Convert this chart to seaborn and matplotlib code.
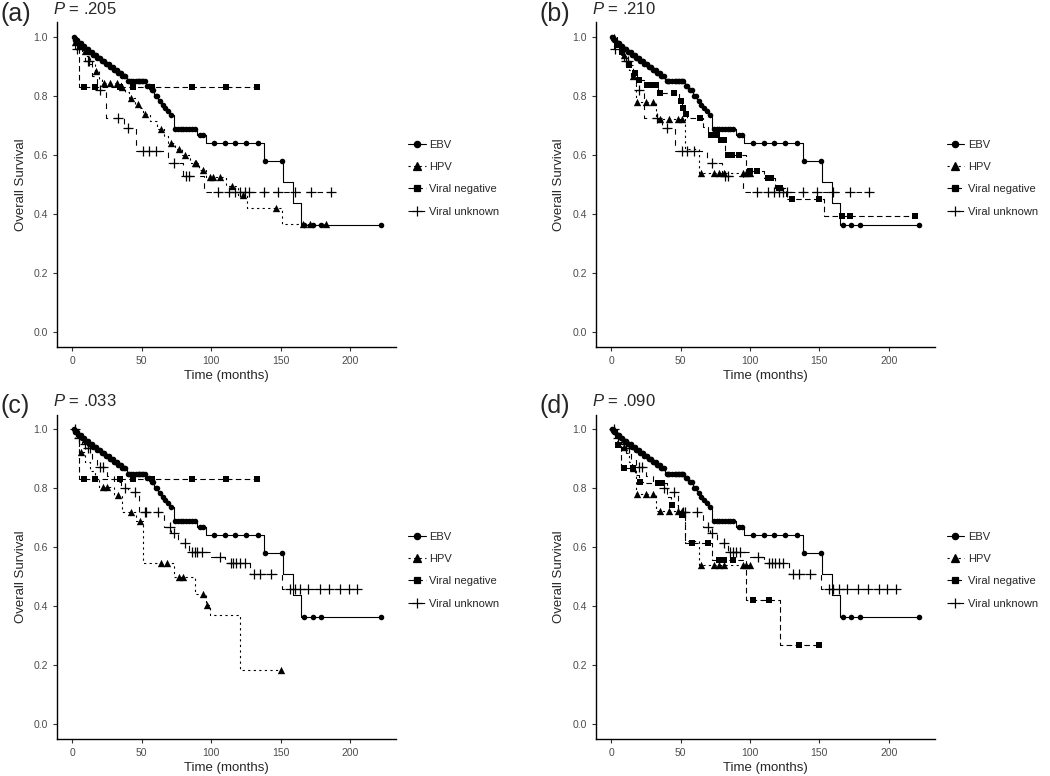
import numpy as np
import pandas as pd
import seaborn as sns
import matplotlib.pyplot as plt
from matplotlib.lines import Line2D

# Values (Kaplan-Meier curves, 4 panels)
groups = ['EBV', 'HPV', 'Viral negative', 'Viral unknown']
panel_labels = ['(a)', '(b)', '(c)', '(d)']
p_values = ['.205', '.210', '.033', '.090']
x_ticks = [0, 50, 100, 150, 200]
y_ticks = [0.0, 0.2, 0.4, 0.6, 0.8, 1.0]

# EBV (same in every panel)
ebv_times = [2, 4, 7, 9, 12, 15, 18, 21, 24, 27, 30, 33, 36, 39, 53, 56, 59, 62, 64, 66, 68,
             70, 73, 90, 96, 138, 152, 159, 165]
ebv_surv = [0.99, 0.98, 0.97, 0.96, 0.95, 0.94, 0.93, 0.92, 0.91, 0.90, 0.89, 0.88, 0.87, 0.85,
            0.835, 0.82, 0.80, 0.785, 0.77, 0.76, 0.75, 0.735, 0.69, 0.67, 0.64, 0.58, 0.51,
            0.437, 0.365]
ebv_censor = [1, 2, 3, 4, 5, 6, 7, 8, 9, 10, 11, 12, 13, 14, 15, 16, 17, 18, 19, 20, 21, 22, 23,
              24, 25, 26, 27, 28, 29, 30, 31, 32, 33, 34, 35, 36, 37, 38, 40, 41, 42, 44, 46, 47,
              48, 49, 50, 51, 52, 54, 55, 57, 58, 60, 61, 63, 65, 67, 69, 71, 74, 76, 78, 80, 82,
              84, 86, 88, 92, 94, 102, 110, 117, 125, 134, 139, 151, 167, 173, 179, 222]

# HPV, panel a
hpv_a_times = [1, 4, 7, 10, 13, 16, 19, 21, 35, 38, 41, 45, 48, 51, 56, 61, 66, 69, 74, 79, 85,
               91, 96, 111, 119, 126, 151]
hpv_a_surv = [0.985, 0.97, 0.955, 0.935, 0.91, 0.885, 0.86, 0.845, 0.83, 0.815, 0.795, 0.775,
              0.76, 0.74, 0.715, 0.69, 0.665, 0.64, 0.62, 0.60, 0.575, 0.55, 0.525, 0.495, 0.465,
              0.42, 0.366]
hpv_a_censor = [2, 5, 9, 17, 23, 27, 32, 36, 42, 47, 52, 64, 71, 77, 81, 88, 89, 94, 99, 101,
                106, 115, 123, 147, 166, 171, 183]

# HPV, panels b and d
hpv_b_times = [4, 7, 10, 13, 15, 18, 32, 53, 63]
hpv_b_surv = [0.97, 0.94, 0.92, 0.89, 0.867, 0.782, 0.724, 0.62, 0.54]
hpv_b_censor = [2, 9, 16, 19, 25, 30, 35, 42, 48, 51, 65, 74, 78, 81, 95, 97, 100]

# HPV, panel c
hpv_c_times = [2, 5, 9, 13, 16, 19, 30, 36, 46, 51, 73, 88, 96, 99, 121]
hpv_c_surv = [0.97, 0.924, 0.89, 0.86, 0.83, 0.803, 0.777, 0.72, 0.69, 0.545, 0.50, 0.443,
              0.405, 0.37, 0.185]
hpv_c_censor = [6, 22, 25, 33, 42, 49, 64, 68, 77, 80, 94, 97, 150]

# Viral negative, panels a and c
neg_a_times = [5]
neg_a_surv = [0.833]
neg_a_censor = [8, 16, 34, 44, 57, 86, 111, 133]

# Viral negative, panel b
neg_b_times = [3, 6, 9, 12, 16, 19, 24, 34, 49, 51, 53, 55, 66, 70, 77, 82, 97, 110, 118, 126, 153]
neg_b_surv = [0.975, 0.95, 0.93, 0.905, 0.88, 0.856, 0.839, 0.81, 0.785, 0.76, 0.74, 0.726,
              0.695, 0.67, 0.65, 0.602, 0.548, 0.524, 0.49, 0.45, 0.394]
neg_b_censor = [4, 8, 13, 17, 20, 26, 28, 30, 32, 35, 45, 50, 52, 54, 64, 72, 76, 79, 81, 84, 87,
                92, 100, 105, 113, 115, 121, 122, 130, 150, 166, 172, 219]

# Viral negative, panel d
neg_d_times = [4, 7, 17, 20, 23, 40, 43, 48, 50, 53, 73, 97, 122]
neg_d_surv = [0.947, 0.868, 0.845, 0.822, 0.817, 0.77, 0.743, 0.725, 0.709, 0.613, 0.556, 0.42,
              0.27]
neg_d_censor = [5, 9, 16, 21, 34, 36, 37, 44, 51, 58, 70, 78, 81, 88, 102, 114, 135, 150]

# Viral unknown, panels a and b
unk_a_times = [2, 9, 14, 18, 24, 37, 46, 69, 80, 95]
unk_a_surv = [0.96, 0.92, 0.87, 0.822, 0.726, 0.692, 0.616, 0.574, 0.529, 0.475]
unk_a_censor = [3, 11, 12, 20, 33, 40, 51, 55, 60, 73, 82, 84, 105, 113, 117, 121, 124, 127, 138,
                148, 160, 172, 186]

# Viral unknown, panels c and d
unk_c_times = [3, 7, 10, 14, 18, 25, 30, 35, 40, 48, 66, 71, 76, 84, 100, 110, 128, 151]
unk_c_surv = [0.97, 0.95, 0.935, 0.90, 0.871, 0.84, 0.82, 0.80, 0.788, 0.72, 0.669, 0.649,
              0.613, 0.584, 0.567, 0.545, 0.511, 0.457]
unk_c_censor = [2, 5, 9, 11, 13, 20, 22, 38, 45, 52, 53, 62, 70, 73, 81, 86, 88, 90, 93, 106, 114,
                116, 118, 121, 124, 131, 135, 143, 157, 160, 164, 170, 178, 185, 193, 199, 205]

ebv = (ebv_times, ebv_surv, ebv_censor)
panels = [
    [ebv, (hpv_a_times, hpv_a_surv, hpv_a_censor), (neg_a_times, neg_a_surv, neg_a_censor),
     (unk_a_times, unk_a_surv, unk_a_censor)],
    [ebv, (hpv_b_times, hpv_b_surv, hpv_b_censor), (neg_b_times, neg_b_surv, neg_b_censor),
     (unk_a_times, unk_a_surv, unk_a_censor)],
    [ebv, (hpv_c_times, hpv_c_surv, hpv_c_censor), (neg_a_times, neg_a_surv, neg_a_censor),
     (unk_c_times, unk_c_surv, unk_c_censor)],
    [ebv, (hpv_b_times, hpv_b_surv, hpv_b_censor), (neg_d_times, neg_d_surv, neg_d_censor),
     (unk_c_times, unk_c_surv, unk_c_censor)],
]

# styles per group
line_styles = ['-', (0, (2, 3)), (0, (5, 3)), (0, (5, 5))]
markers = ['o', '^', 's', '+']
marker_sizes = [16, 28, 18, 45]
legend_msize = [4.5, 6, 5, 7]


def km_frame(times, surv, censor):
    t = [0] + list(times)
    s = [1.0] + list(surv)
    end = max(t[-1], max(censor))
    step = pd.DataFrame({'time': t + [end], 'surv': s + [s[-1]]})
    idx = np.searchsorted(t, censor, side='right') - 1
    marks = pd.DataFrame({'time': censor, 'surv': np.array(s)[idx]})
    return step, marks


sns.set_theme(style='ticks')
plt.rcParams['font.family'] = ['Liberation Sans', 'DejaVu Sans']
plt.rcParams['mathtext.fontset'] = 'custom'
plt.rcParams['mathtext.rm'] = 'Liberation Sans'
plt.rcParams['mathtext.it'] = 'Liberation Sans:italic'

fig = plt.figure(figsize=(10.5, 7.76), dpi=100)

W, H = 1050, 776
ax_w, ax_h = 339 / W, 324.5 / H
lefts = [57 / W, 595.7 / W, 57 / W, 595.7 / W]
bottoms = [1 - 347 / H, 1 - 347 / H, 1 - 739 / H, 1 - 739 / H]
x_off = [0, 538.7, 0, 538.7]
y_off = [0, 0, 392, 392]

for i, curves in enumerate(panels):
    ax = fig.add_axes([lefts[i], bottoms[i], ax_w, ax_h])
    for j, (times, surv, censor) in enumerate(curves):
        step, marks = km_frame(times, surv, censor)
        sns.lineplot(data=step, x='time', y='surv', ax=ax, color='black', linewidth=0.8,
                     linestyle=line_styles[j], drawstyle='steps-post', estimator=None,
                     sort=False, legend=False)
        if markers[j] == '+':
            sns.scatterplot(data=marks, x='time', y='surv', ax=ax, marker='+',
                            s=marker_sizes[j], color='black', linewidth=0.9, legend=False)
        else:
            sns.scatterplot(data=marks, x='time', y='surv', ax=ax, marker=markers[j],
                            s=marker_sizes[j], color='black', edgecolor='black', linewidth=0,
                            legend=False)

    ax.set_xlim(-11.1, 233.1)
    ax.set_ylim(-0.05, 1.05)
    ax.set_xticks(x_ticks)
    ax.set_yticks(y_ticks)
    ax.set_yticklabels([f'{v:.1f}' for v in y_ticks])
    ax.set_xlabel('Time (months)', fontsize=9.5, labelpad=3)
    ax.set_ylabel('Overall Survival', fontsize=9.5, labelpad=5)
    ax.tick_params(labelsize=7.5, labelcolor='#4D4D4D', color='#333333', length=3, width=0.8)
    sns.despine(ax=ax)
    for sp in ['left', 'bottom']:
        ax.spines[sp].set_linewidth(1.0)
        ax.spines[sp].set_color('black')

    handles = [Line2D([], [], color='black', linewidth=0.8, linestyle=line_styles[j],
                      marker=markers[j], markersize=legend_msize[j], markeredgewidth=0.9)
               for j in range(4)]
    ax.legend(handles, groups, loc='center left', bbox_to_anchor=(1.035, 0.52), frameon=False,
              fontsize=8, handlelength=1.6, handletextpad=0.3, labelspacing=1.1,
              borderpad=0, borderaxespad=0)

    fig.text((1 + x_off[i]) / W, 1 - (21 + y_off[i]) / H, panel_labels[i], fontsize=18,
             va='baseline', ha='left')
    fig.text((53 + x_off[i]) / W, 1 - (14 + y_off[i]) / H, r'$P$ = ' + p_values[i], fontsize=12,
             va='baseline', ha='left')

fig.savefig('out.png', dpi=100)
